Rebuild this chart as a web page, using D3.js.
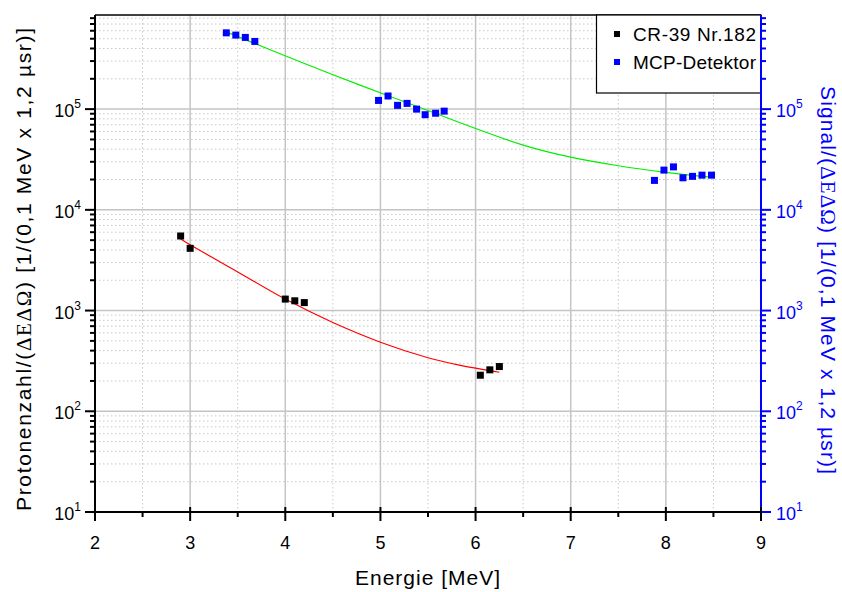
<!DOCTYPE html>
<html><head><meta charset="utf-8">
<script src="https://cdn.jsdelivr.net/npm/d3@7"></script>
<style>body{margin:0;background:#fff}svg{display:block}text{font-family:"Liberation Sans",Arial,sans-serif}</style>
</head><body>
<svg id="c" width="842" height="592"></svg>
<script>
// ---- data ----
const crX = [2.9, 3.0, 4.0, 4.1, 4.2, 6.05, 6.15, 6.25];
const crY = [5500, 4150, 1300, 1250, 1200, 228, 258, 278];
const mcpX = [3.38, 3.48, 3.58, 3.68, 4.98, 5.08, 5.18, 5.28, 5.38, 5.47, 5.58, 5.67, 7.88, 7.98, 8.08, 8.18, 8.28, 8.38, 8.48];
const mcpY = [572000, 543000, 515000, 470000, 122000, 135000, 109000, 114000, 100000, 88000, 91000, 95500, 19600, 24800, 26700, 20800, 21500, 22100, 22100];
// fit curves
const crFitX = [2.9, 3.0, 3.5, 4.0, 4.5, 5.0, 5.5, 5.83, 6.25];
const crFitY = [5140, 4500, 2420, 1300, 760, 485, 340, 287, 244];
const mcpFitX = [3.38, 4.155, 4.785, 5.486, 6.03, 6.5, 7.0, 7.5, 8.0, 8.48];
const mcpFitY = [585000, 295000, 173000, 98000, 62800, 43950, 33340, 27420, 23600, 21130];
const xTicks = [2, 3, 4, 5, 6, 7, 8, 9];
const yExp = [1, 2, 3, 4, 5];
const legendNames = ["CR-39 Nr.182", "MCP-Detektor"];

const svg = d3.select("#c");
const L = 95, R = 761, T = 15, B = 512;
const x = d3.scaleLinear().domain([2, 9]).range([L, R]);
const y = d3.scaleLog().domain([10, 860000]).range([B, T]);

// minor values
const minorY = [];
for (let e = 1; e <= 5; e++) for (let m = 2; m <= 9; m++) { const v = m * Math.pow(10, e); if (v <= 860000) minorY.push(v); }
const minorX = d3.range(2.5, 9, 1);

// grid
const g = svg.append("g");
g.selectAll(".mx").data(minorX).join("line").attr("x1", d => x(d)).attr("x2", d => x(d)).attr("y1", T).attr("y2", B)
  .attr("stroke", "#c8c8c8").attr("stroke-width", 1).attr("stroke-dasharray", "1.5,2.5");
g.selectAll(".my").data(minorY).join("line").attr("x1", L).attr("x2", R).attr("y1", d => y(d)).attr("y2", d => y(d))
  .attr("stroke", "#c8c8c8").attr("stroke-width", 1).attr("stroke-dasharray", "1.5,2.5");
g.selectAll(".Mx").data(xTicks.slice(1, -1)).join("line").attr("x1", d => x(d)).attr("x2", d => x(d)).attr("y1", T).attr("y2", B)
  .attr("stroke", "#c4c4c4").attr("stroke-width", 1.5);
g.selectAll(".My").data(yExp.slice(1)).join("line").attr("x1", L).attr("x2", R).attr("y1", d => y(Math.pow(10, d))).attr("y2", d => y(Math.pow(10, d)))
  .attr("stroke", "#c4c4c4").attr("stroke-width", 1.5);

// fit lines
const line = d3.line().x(d => x(d[0])).y(d => y(d[1])).curve(d3.curveCatmullRom);
svg.append("path").datum(crFitX.map((v, i) => [v, crFitY[i]])).attr("d", line).attr("fill", "none").attr("stroke", "#ff0000").attr("stroke-width", 1.2);
svg.append("path").datum(mcpFitX.map((v, i) => [v, mcpFitY[i]])).attr("d", line).attr("fill", "none").attr("stroke", "#00ee00").attr("stroke-width", 1.2);

// markers
const S = 7;
svg.selectAll(".cr").data(crX.map((v, i) => [v, crY[i]])).join("rect")
  .attr("x", d => x(d[0]) - S / 2).attr("y", d => y(d[1]) - S / 2).attr("width", S).attr("height", S).attr("fill", "#000");
svg.selectAll(".mcp").data(mcpX.map((v, i) => [v, mcpY[i]])).join("rect")
  .attr("x", d => x(d[0]) - S / 2).attr("y", d => y(d[1]) - S / 2).attr("width", S).attr("height", S).attr("fill", "#0000ff");

// frame top
svg.append("line").attr("x1", L).attr("x2", R).attr("y1", T).attr("y2", T).attr("stroke", "#000").attr("stroke-width", 1.5);

// left axis
const la = svg.append("g");
la.append("line").attr("x1", L).attr("x2", L).attr("y1", T).attr("y2", B + 1).attr("stroke", "#000").attr("stroke-width", 2);
la.selectAll(".t").data(yExp).join("line").attr("x1", L - 10).attr("x2", L).attr("y1", d => y(Math.pow(10, d))).attr("y2", d => y(Math.pow(10, d))).attr("stroke", "#000").attr("stroke-width", 2);
la.selectAll(".m").data(minorY).join("line").attr("x1", L - 5).attr("x2", L).attr("y1", d => y(d)).attr("y2", d => y(d)).attr("stroke", "#000").attr("stroke-width", 2);
const lt = la.selectAll(".l").data(yExp).join("text").attr("x", 81).attr("y", d => y(Math.pow(10, d)) + 8)
  .attr("text-anchor", "end").attr("font-size", 18).attr("fill", "#000");
lt.append("tspan").text("10");
lt.append("tspan").attr("dy", -9).attr("font-size", 12).text(d => d);

// right axis
const ra = svg.append("g");
ra.append("line").attr("x1", R).attr("x2", R).attr("y1", T).attr("y2", B + 1).attr("stroke", "#0000ff").attr("stroke-width", 2);
ra.selectAll(".t").data(yExp).join("line").attr("x1", R).attr("x2", R + 10).attr("y1", d => y(Math.pow(10, d))).attr("y2", d => y(Math.pow(10, d))).attr("stroke", "#0000ff").attr("stroke-width", 2);
ra.selectAll(".m").data(minorY).join("line").attr("x1", R).attr("x2", R + 5).attr("y1", d => y(d)).attr("y2", d => y(d)).attr("stroke", "#0000ff").attr("stroke-width", 2);
const rt = ra.selectAll(".l").data(yExp).join("text").attr("x", 776).attr("y", d => y(Math.pow(10, d)) + 8)
  .attr("text-anchor", "start").attr("font-size", 18).attr("fill", "#0000ff");
rt.append("tspan").text("10");
rt.append("tspan").attr("dy", -9).attr("font-size", 12).text(d => d);

// bottom axis
const ba = svg.append("g");
ba.append("line").attr("x1", L).attr("x2", R).attr("y1", B).attr("y2", B).attr("stroke", "#000").attr("stroke-width", 2);
ba.selectAll(".t").data(xTicks).join("line").attr("x1", d => x(d)).attr("x2", d => x(d)).attr("y1", B - 5).attr("y2", B + 9).attr("stroke", "#000").attr("stroke-width", 2);
ba.selectAll(".m").data(minorX).join("line").attr("x1", d => x(d)).attr("x2", d => x(d)).attr("y1", B).attr("y2", B + 5).attr("stroke", "#000").attr("stroke-width", 2);
ba.selectAll(".l").data(xTicks).join("text").attr("x", d => x(d)).attr("y", 549).attr("text-anchor", "middle").attr("font-size", 18).text(d => d);

// axis titles
svg.append("text").attr("x", 355).attr("y", 585).attr("font-size", 21).attr("textLength", 145).attr("lengthAdjust", "spacing").text("Energie [MeV]");
const ltit = svg.append("text").attr("transform", "translate(31,511) rotate(-90)").attr("font-size", 21).attr("textLength", 483).attr("lengthAdjust", "spacing");
ltit.append("tspan").text("Protonenzahl/(");
ltit.append("tspan").attr("font-family", "Liberation Serif, Times New Roman, serif").text("ΔEΔΩ");
ltit.append("tspan").text(") [1/(0,1 MeV x 1,2 µsr)]");
const rtit = svg.append("text").attr("transform", "translate(821,86) rotate(90)").attr("font-size", 21).attr("fill", "#0000ff").attr("textLength", 388).attr("lengthAdjust", "spacing");
rtit.append("tspan").text("Signal/(");
rtit.append("tspan").attr("font-family", "Liberation Serif, Times New Roman, serif").text("ΔEΔΩ");
rtit.append("tspan").text(") [1/(0,1 MeV x 1,2 µsr)]");

// legend
const lg = svg.append("g");
lg.append("rect").attr("x", 596.5).attr("y", T).attr("width", R - 596.5).attr("height", 78).attr("fill", "#fff").attr("stroke", "#000").attr("stroke-width", 1.2);
const colors = ["#000", "#0000ff"];
legendNames.forEach((n, i) => {
  lg.append("rect").attr("x", 614).attr("y", 31 + i * 28).attr("width", 6).attr("height", 6).attr("fill", colors[i]);
  lg.append("text").attr("x", 633).attr("y", 41 + i * 28).attr("font-size", 19).attr("textLength", 123).attr("lengthAdjust", "spacing").attr("fill", "#000").text(n);
});
// redraw right axis on top of legend
svg.append("line").attr("x1", R).attr("x2", R).attr("y1", T).attr("y2", 95).attr("stroke", "#0000ff").attr("stroke-width", 2);
</script>
</body></html>
